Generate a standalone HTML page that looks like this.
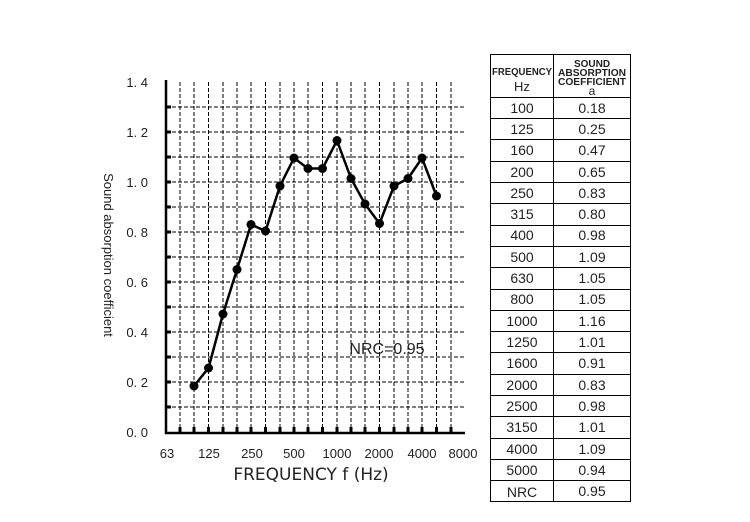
<!DOCTYPE html>
<html><head><style>body{margin:0;background:#fff}</style></head><body>
<svg width="750" height="517" xmlns="http://www.w3.org/2000/svg" font-family="Liberation Sans, DejaVu Sans, sans-serif">
<g stroke="#000" stroke-width="1" stroke-dasharray="4,2" fill="none">
<path d="M166 407H465M166 382H465M166 357H465M166 332H465M166 307H465M166 282H465M166 257H465M166 232H465M166 207H465M166 182H465M166 157H465M166 132H465M166 107H465"/>
<path d="M180 82V432M194 82V432M208.5 82V432M223 82V432M237 82V432M251 82V432M265.5 82V432M280 82V432M294 82V432M308 82V432M322.5 82V432M337 82V432M351 82V432M365 82V432M379.5 82V432M394 82V432M408 82V432M422 82V432M436.5 82V432M451 82V432"/>
</g>
<g stroke="#000" stroke-width="2.5" fill="none">
<path d="M166 80V433H465"/>
</g>
<g stroke="#000" stroke-width="3">
<path d="M166 407h5M166 382h5M166 357h5M166 332h5M166 307h5M166 282h5M166 257h5M166 232h5M166 207h5M166 182h5M166 157h5M166 132h5M166 107h5"/>
<path d="M180 432v-5M194 432v-5M208.5 432v-5M223 432v-5M237 432v-5M251 432v-5M265.5 432v-5M280 432v-5M294 432v-5M308 432v-5M322.5 432v-5M337 432v-5M351 432v-5M365 432v-5M379.5 432v-5M394 432v-5M408 432v-5M422 432v-5M436.5 432v-5M451 432v-5"/>
</g>
<polyline fill="none" stroke="#000" stroke-width="2.5" points="194,386 208.5,368 223,314 237,269.5 251,224.5 265.5,231 280,186 294,158 308,168.5 322.5,168.5 337,140.5 351,178.5 365,204 379.5,223.5 394,186 408,178.5 422,158 436.5,196"/>
<g fill="#000">
<circle cx="194" cy="386" r="4.5"/><circle cx="208.5" cy="368" r="4.5"/><circle cx="223" cy="314" r="4.5"/><circle cx="237" cy="269.5" r="4.5"/><circle cx="251" cy="224.5" r="4.5"/><circle cx="265.5" cy="231" r="4.5"/><circle cx="280" cy="186" r="4.5"/><circle cx="294" cy="158" r="4.5"/><circle cx="308" cy="168.5" r="4.5"/><circle cx="322.5" cy="168.5" r="4.5"/><circle cx="337" cy="140.5" r="4.5"/><circle cx="351" cy="178.5" r="4.5"/><circle cx="365" cy="204" r="4.5"/><circle cx="379.5" cy="223.5" r="4.5"/><circle cx="394" cy="186" r="4.5"/><circle cx="408" cy="178.5" r="4.5"/><circle cx="422" cy="158" r="4.5"/><circle cx="436.5" cy="196" r="4.5"/>
</g>
<g font-size="13" text-anchor="end" fill="#222">
<text x="148" y="437">0. 0</text><text x="148" y="387">0. 2</text><text x="148" y="337">0. 4</text><text x="148" y="287">0. 6</text><text x="148" y="237">0. 8</text><text x="148" y="187">1. 0</text><text x="148" y="137">1. 2</text><text x="148" y="87">1. 4</text>
</g>
<g font-size="13" text-anchor="middle" fill="#222">
<text x="167" y="458">63</text><text x="209" y="458">125</text><text x="252" y="458">250</text><text x="294" y="458">500</text><text x="337" y="458">1000</text><text x="379" y="458">2000</text><text x="422" y="458">4000</text><text x="463" y="458">8000</text>
</g>
<text x="311" y="480" font-size="17" font-family="DejaVu Sans, sans-serif" text-anchor="middle" fill="#222">FREQUENCY f (Hz)</text>
<text x="387" y="354" font-size="16" text-anchor="middle" fill="#222">NRC=0.95</text>
<text transform="translate(104,255) rotate(90)" font-size="13" text-anchor="middle" fill="#222">Sound absorption coefficient</text>
<g stroke="#000" stroke-width="1" fill="none">
<rect x="490.5" y="54.5" width="140" height="447"/>
<path d="M553.5 54.5V501.5"/>
<path d="M490 97.5H631M490 118.5H631M490 139.5H631M490 161.5H631M490 182.5H631M490 203.5H631M490 225.5H631M490 246.5H631M490 267.5H631M490 289.5H631M490 310.5H631M490 331.5H631M490 352.5H631M490 374.5H631M490 395.5H631M490 416.5H631M490 438.5H631M490 459.5H631M490 480.5H631"/>
</g>
<g font-size="10" font-weight="bold" text-anchor="middle" fill="#222">
<text x="522" y="75" textLength="60" lengthAdjust="spacingAndGlyphs">FREQUENCY</text>
<text x="592" y="67">SOUND</text><text x="592" y="76" textLength="68" lengthAdjust="spacingAndGlyphs">ABSORPTION</text><text x="592" y="85" textLength="68" lengthAdjust="spacingAndGlyphs">COEFFICIENT</text>
</g>
<text x="522" y="91" font-size="13" text-anchor="middle" fill="#222">Hz</text>
<text x="592" y="95" font-size="12" text-anchor="middle" fill="#222">a</text>
<g font-size="14" text-anchor="middle" fill="#222">
<text x="522" y="113">100</text><text x="592" y="113">0.18</text>
<text x="522" y="134">125</text><text x="592" y="134">0.25</text>
<text x="522" y="155">160</text><text x="592" y="155">0.47</text>
<text x="522" y="177">200</text><text x="592" y="177">0.65</text>
<text x="522" y="198">250</text><text x="592" y="198">0.83</text>
<text x="522" y="219">315</text><text x="592" y="219">0.80</text>
<text x="522" y="240">400</text><text x="592" y="240">0.98</text>
<text x="522" y="262">500</text><text x="592" y="262">1.09</text>
<text x="522" y="283">630</text><text x="592" y="283">1.05</text>
<text x="522" y="304">800</text><text x="592" y="304">1.05</text>
<text x="522" y="326">1000</text><text x="592" y="326">1.16</text>
<text x="522" y="347">1250</text><text x="592" y="347">1.01</text>
<text x="522" y="368">1600</text><text x="592" y="368">0.91</text>
<text x="522" y="390">2000</text><text x="592" y="390">0.83</text>
<text x="522" y="411">2500</text><text x="592" y="411">0.98</text>
<text x="522" y="432">3150</text><text x="592" y="432">1.01</text>
<text x="522" y="454">4000</text><text x="592" y="454">1.09</text>
<text x="522" y="475">5000</text><text x="592" y="475">0.94</text>
<text x="522" y="497">NRC</text><text x="592" y="496">0.95</text>
</g>
</svg>
</body></html>
